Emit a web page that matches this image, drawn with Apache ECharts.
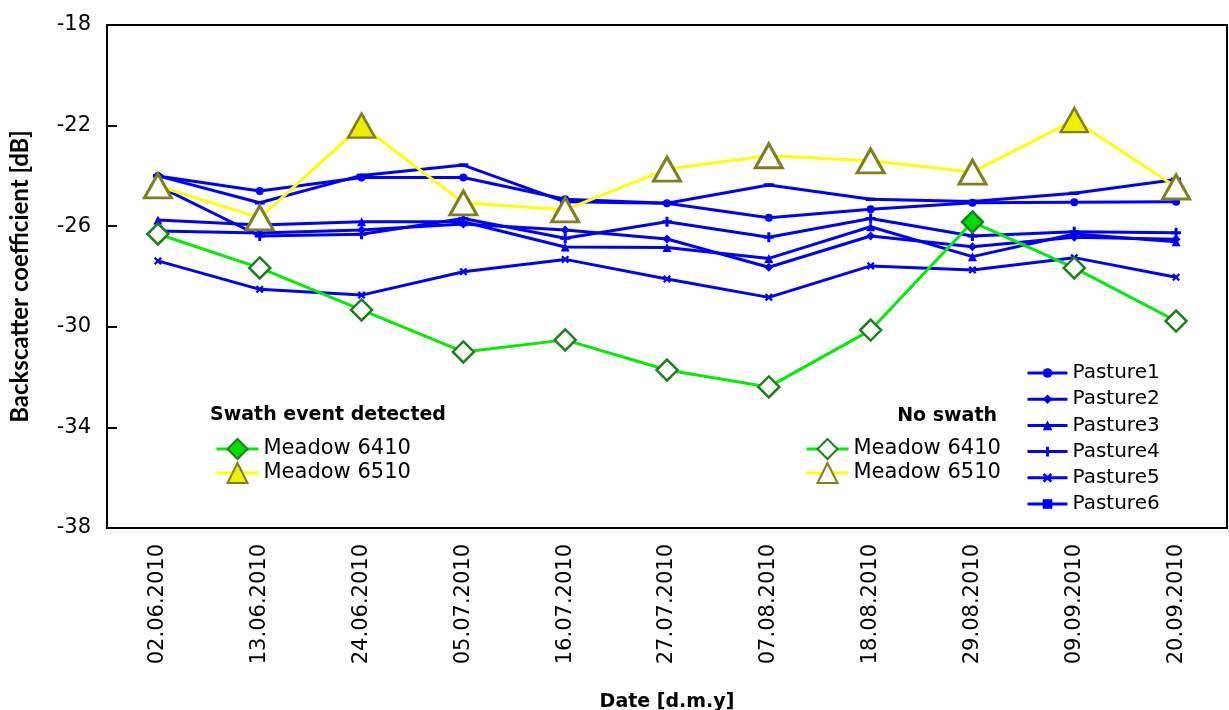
<!DOCTYPE html>
<html>
<head>
<meta charset="utf-8">
<script src="https://cdn.jsdelivr.net/npm/echarts@6/dist/echarts.min.js"></script>
<style>
html,body{margin:0;padding:0;background:#fff;}
#chart{width:1229px;height:710px;}
</style>
</head>
<body>
<div id="chart"></div>
<script>
const dates = ['02.06.2010','13.06.2010','24.06.2010','05.07.2010','16.07.2010','27.07.2010','07.08.2010','18.08.2010','29.08.2010','09.09.2010','20.09.2010'];
const yTicks = [-38, -34, -30, -26, -22, -18];

const meadow6410 = [-26.31, -27.66, -29.33, -31.0, -30.52, -31.72, -32.39, -30.13, -25.83, -27.66, -29.77];
const meadow6410Swath = [0, 0, 0, 0, 0, 0, 0, 0, 1, 0, 0];
const meadow6510 = [-24.40, -25.67, -22.0, -25.07, -25.35, -23.73, -23.2, -23.4, -23.85, -21.78, -24.44];
const meadow6510Swath = [0, 0, 1, 0, 0, 0, 0, 0, 0, 1, 0];

const pasture1 = [-24.00, -24.60, -24.06, -24.06, -24.93, -25.09, -25.66, -25.33, -25.07, -25.05, -25.03];
const pasture2 = [-26.19, -26.27, -26.15, -25.91, -26.15, -26.51, -27.63, -26.39, -26.82, -26.44, -26.52];
const pasture3 = [-25.75, -25.95, -25.82, -25.82, -26.83, -26.85, -27.28, -26.02, -27.21, -26.31, -26.62];
const pasture4 = [-24.40, -26.39, -26.32, -25.69, -26.48, -25.82, -26.44, -25.69, -26.39, -26.22, -26.26];
const pasture5 = [-27.38, -28.51, -28.74, -27.81, -27.32, -28.10, -28.83, -27.58, -27.74, -27.25, -28.03];
const pasture6 = [-24.00, -25.07, -23.98, -23.57, -25.03, -25.09, -24.36, -24.93, -25.02, -24.69, -24.14];

const BLUE = '#0000FF';
const GREEN = '#00EE00';
const DKGREEN = '#1E7E1E';
const YELLOW = '#FFFF00';
const OLIVE = '#7F7F1F';
const FONT = 'DejaVu Sans';

const PLUS = 'path://M3.5,0H6.5V3.5H10V6.5H6.5V10H3.5V6.5H0V3.5H3.5Z';
const XMARK = 'path://M0,2L2,0L5,3L8,0L10,2L7,5L10,8L8,10L5,7L2,10L0,8L3,5Z';
const DASH = 'path://M0,0H10V3H0Z';

function pasture(name, data, symbol, size) {
  return {
    name: name, type: 'line', data: data, symbol: symbol, symbolSize: size,
    lineStyle: {color: BLUE, width: 3},
    itemStyle: {color: BLUE},
    z: 2
  };
}

const meadow6410Data = meadow6410.map((v, i) => meadow6410Swath[i]
  ? {value: v, itemStyle: {color: '#00DD00', borderColor: DKGREEN, borderWidth: 2.5}}
  : v);
const meadow6510Data = meadow6510.map((v, i) => meadow6510Swath[i]
  ? {value: v, itemStyle: {color: '#EEEE00', borderColor: OLIVE, borderWidth: 2.5}}
  : v);

const chart = echarts.init(document.getElementById('chart'), null, {renderer: 'canvas'});
chart.setOption({
  animation: false,
  backgroundColor: '#fff',
  title: [
    {text: 'Swath event detected', left: 210, top: 406, padding: 0,
     textStyle: {fontFamily: FONT, fontSize: 19, fontWeight: 'bold', color: '#000'}},
    {text: 'No swath', right: 232, top: 407, padding: 0,
     textStyle: {fontFamily: FONT, fontSize: 19, fontWeight: 'bold', color: '#000'}}
  ],
  grid: {left: 107, right: 2, top: 25, bottom: 182, show: true, borderColor: '#000', borderWidth: 2,
         containLabel: false, outerBoundsMode: 'none'},
  legend: [
    {orient: 'vertical', left: 210, top: 432, itemWidth: 42, itemHeight: 25, itemGap: 0,
     data: ['Meadow 6410 ', 'Meadow 6510 '],
     formatter: n => n.trim(),
     lineStyle: {width: 3},
     textStyle: {fontFamily: FONT, fontSize: 21, color: '#000', lineHeight: 24}},
    {orient: 'vertical', left: 800, top: 432, itemWidth: 42, itemHeight: 25, itemGap: 0,
     data: ['Meadow 6410', 'Meadow 6510'],
     lineStyle: {width: 3},
     textStyle: {fontFamily: FONT, fontSize: 21, color: '#000', lineHeight: 24}},
    {orient: 'vertical', left: 1021, top: 356, itemWidth: 40, itemHeight: 12, itemGap: 2.2,
     data: ['Pasture1', 'Pasture2', 'Pasture3', 'Pasture4', 'Pasture5', 'Pasture6'],
     lineStyle: {width: 3},
     textStyle: {fontFamily: FONT, fontSize: 20, color: '#000', lineHeight: 24}}
  ],
  xAxis: {
    type: 'category', data: dates, boundaryGap: true,
    axisLine: {show: true, lineStyle: {color: '#000', width: 2}},
    axisTick: {show: false},
    axisLabel: {rotate: 90, margin: 16, fontFamily: FONT, fontSize: 21, color: '#000'},
    name: 'Date [d.m.y]', nameLocation: 'middle', nameGap: 165,
    nameTextStyle: {fontFamily: FONT, fontSize: 19, fontWeight: 'bold', color: '#000'}
  },
  yAxis: {
    type: 'value', min: -38, max: -18, interval: 4,
    axisLine: {show: true, lineStyle: {color: '#000', width: 2}},
    axisTick: {show: true, inside: true, length: 10, lineStyle: {color: '#000', width: 2}},
    splitLine: {show: false},
    axisLabel: {margin: 16, fontFamily: FONT, fontSize: 21, color: '#000',
      formatter: v => yTicks.includes(v) ? String(v) : ''},
    name: 'Backscatter coefficient [dB]', nameLocation: 'middle', nameGap: 75,
    nameTextStyle: {fontFamily: 'Lato', fontSize: 24, fontWeight: 'bold', color: '#000'}
  },
  series: [
    pasture('Pasture1', pasture1, 'circle', 8),
    pasture('Pasture2', pasture2, 'diamond', 9),
    pasture('Pasture3', pasture3, 'triangle', 9),
    pasture('Pasture4', pasture4, PLUS, 10),
    pasture('Pasture5', pasture5, XMARK, 8),
    pasture('Pasture6', pasture6, DASH, [10, 3.5]),
    {
      name: 'Meadow 6410', type: 'line', data: meadow6410Data, symbol: 'diamond', symbolSize: 21,
      lineStyle: {color: GREEN, width: 3},
      itemStyle: {color: '#fff', borderColor: DKGREEN, borderWidth: 2.5},
      z: 5
    },
    {
      name: 'Meadow 6510', type: 'line', data: meadow6510Data, symbol: 'triangle', symbolSize: [27, 24],
      lineStyle: {color: YELLOW, width: 3},
      itemStyle: {color: '#fff', borderColor: OLIVE, borderWidth: 3},
      z: 5
    },
    {
      name: 'Meadow 6410 ', type: 'line', data: [], symbol: 'diamond',
      lineStyle: {color: GREEN, width: 3},
      itemStyle: {color: '#00DD00', borderColor: DKGREEN, borderWidth: 2}
    },
    {
      name: 'Meadow 6510 ', type: 'line', data: [], symbol: 'triangle',
      lineStyle: {color: YELLOW, width: 3},
      itemStyle: {color: '#EEEE00', borderColor: OLIVE, borderWidth: 2}
    }
  ]
});
</script>
</body>
</html>
